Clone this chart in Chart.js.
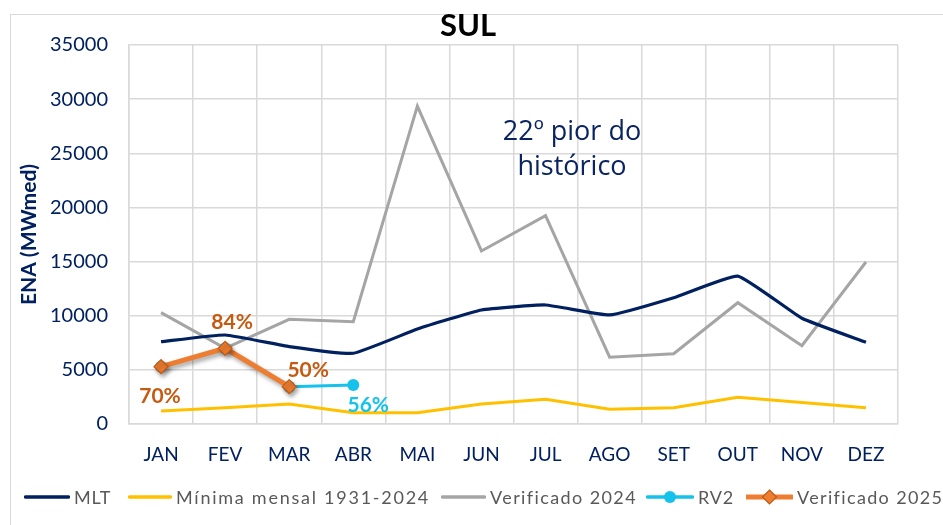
<!DOCTYPE html>
<html><head><meta charset="utf-8">
<script src="https://cdn.jsdelivr.net/npm/chart.js@4/dist/chart.umd.min.js"></script>
<style>
html,body{margin:0;padding:0;background:#fff;}
body{width:943px;height:525px;overflow:hidden;position:relative;font-family:Lato,"Open Sans",sans-serif;}
#frame{position:absolute;left:10px;top:14px;width:1000px;height:600px;border:1.5px solid #d9d9d9;box-sizing:border-box;}
#wrap{position:absolute;left:0;top:0;width:943px;height:525px;}
#title{position:absolute;left:368px;width:200px;top:6px;text-align:center;font-weight:bold;font-size:31px;color:#000;line-height:36px;}
#note{position:absolute;left:452px;width:240px;top:112px;text-align:center;font-family:"Open Sans",sans-serif;font-size:27px;line-height:35px;color:#0a2461;}
.leg{position:absolute;top:484px;height:26px;font-size:18px;color:#595959;line-height:26px;white-space:nowrap;}
.leg svg{position:absolute;top:0;}
</style></head>
<body>
<div id="frame"></div>
<div id="wrap"><canvas id="c" width="943" height="525"></canvas></div>
<div id="title">SUL</div>
<div id="note">22º pior do<br>histórico</div>
<div id="legend"></div>
<script>
const months = ['JAN','FEV','MAR','ABR','MAI','JUN','JUL','AGO','SET','OUT','NOV','DEZ'];
const mlt = [7600, 8220, 7150, 6530, 8770, 10530, 10990, 10070, 11660, 13660, 9770, 7550];
const minima = [1200, 1500, 1850, 1050, 1050, 1850, 2280, 1370, 1510, 2460, 1980, 1510];
const verificado2024 = [10280, 6990, 9670, 9450, 29350, 15980, 19240, 6170, 6490, 11200, 7230, 14960];
const rv2 = [5290, 6990, 3450, 3600, null, null, null, null, null, null, null, null];
const verificado2025 = [5290, 6990, 3450, null, null, null, null, null, null, null, null, null];
const pct2025 = [70, 84, 50];
const pctRV2 = [null, null, null, 56];
const yMin = 0, yMax = 35000, yStep = 5000;

const NAVY = '#002060', YEL = '#ffc000', GRAY = '#a5a5a5', CYAN = '#14c2ec', ORANGE = '#ed7d31', DORANGE = '#c55a11';

const shadowPlugin = {
  id: 'shadow',
  beforeDatasetDraw(chart, args) {
    if (chart.data.datasets[args.index].label === 'Verificado 2025') {
      const ctx = chart.ctx; ctx.save();
      ctx.shadowColor = 'rgba(0,0,0,0.35)'; ctx.shadowBlur = 4; ctx.shadowOffsetX = 2; ctx.shadowOffsetY = 3;
    }
  },
  afterDatasetDraw(chart, args) {
    if (chart.data.datasets[args.index].label === 'Verificado 2025') chart.ctx.restore();
  }
};

const labelPlugin = {
  id: 'pctLabels',
  afterDatasetsDraw(chart) {
    const ctx = chart.ctx;
    ctx.save();
    ctx.textAlign = 'center'; ctx.textBaseline = 'middle';
    ctx.font = 'bold 21px Lato, sans-serif';
    const m25 = chart.getDatasetMeta(4);
    const off25 = [[-1, 30], [7, -26], [19, -16]];
    pct2025.forEach((v, i) => {
      if (v == null) return;
      const el = m25.data[i];
      ctx.fillStyle = DORANGE;
      ctx.fillText(v + '%', el.x + off25[i][0], el.y + off25[i][1]);
    });
    const mrv = chart.getDatasetMeta(3);
    pctRV2.forEach((v, i) => {
      if (v == null) return;
      const el = mrv.data[i];
      ctx.fillStyle = CYAN;
      ctx.fillText(v + '%', el.x + 15, el.y + 20);
    });
    ctx.restore();
  }
};

new Chart(document.getElementById('c'), {
  type: 'line',
  data: {
    labels: months,
    datasets: [
      {label: 'MLT', data: mlt, borderColor: NAVY, backgroundColor: NAVY, borderWidth: 3.2, pointRadius: 0, tension: 0.12, order: 3},
      {label: 'Mínima mensal 1931-2024', data: minima, borderColor: YEL, backgroundColor: YEL, borderWidth: 3, pointRadius: 0, order: 5},
      {label: 'Verificado 2024', data: verificado2024, borderColor: GRAY, backgroundColor: GRAY, borderWidth: 3, pointRadius: 0, order: 4},
      {label: 'RV2', data: rv2, borderColor: CYAN, backgroundColor: CYAN, borderWidth: 3, pointRadius: 6, pointBorderWidth: 0, pointBackgroundColor: CYAN, order: 1},
      {label: 'Verificado 2025', data: verificado2025, borderColor: ORANGE, backgroundColor: ORANGE, borderWidth: 5, pointStyle: 'rectRot', pointRadius: 7, pointBackgroundColor: ORANGE, pointBorderColor: DORANGE, pointBorderWidth: 1.2, order: 0}
    ]
  },
  options: {
    responsive: false, animation: false, events: [],
    layout: {padding: {top: 45, right: 45, bottom: 41, left: 0}},
    plugins: {legend: {display: false}, title: {display: false}, tooltip: {enabled: false}},
    scales: {
      x: {
        type: 'category', offset: true,
        grid: {offset: true, color: '#d9d9d9', lineWidth: 1.5, drawTicks: false},
        border: {color: '#d9d9d9', width: 1.5},
        ticks: {color: NAVY, font: {family: 'Lato', size: 19}, padding: 19, maxRotation: 0},
        afterFit: s => { s.height = 60; }
      },
      y: {
        min: yMin, max: yMax,
        grid: {color: '#d9d9d9', lineWidth: 1.5, drawTicks: false},
        border: {color: '#d9d9d9', width: 1.5},
        ticks: {stepSize: yStep, color: NAVY, font: {family: 'Lato', size: 20}, padding: 21, callback: v => String(v)},
        title: {display: true, text: 'ENA (MWmed)', color: NAVY, font: {family: 'Lato', size: 21, weight: 'bold'}, padding: {top: 17, bottom: 0}},
        afterFit: s => { s.width = 129; }
      }
    }
  },
  plugins: [shadowPlugin, labelPlugin]
});

// legend
const legItems = [
  {text: 'MLT', color: NAVY, x: 24, w: 46, marker: null, ls: 0.8},
  {text: 'Mínima mensal 1931-2024', color: YEL, x: 128, w: 44, marker: null, ls: 1.75},
  {text: 'Verificado 2024', color: GRAY, x: 441, w: 45, marker: null, ls: 1.4},
  {text: 'RV2', color: CYAN, x: 646, w: 48, marker: 'circle', ls: 0.8},
  {text: 'Verificado 2025', color: ORANGE, x: 746, w: 47, marker: 'diamond', ls: 1.35}
];
const legend = document.getElementById('legend');
legItems.forEach(it => {
  const d = document.createElement('div');
  d.className = 'leg';
  d.style.left = it.x + 'px';
  d.style.paddingLeft = (it.w + 4) + 'px';
  d.style.letterSpacing = it.ls + 'px';
  let mk = '';
  const cx = it.w / 2;
  if (it.marker === 'circle') mk = `<circle cx="${cx}" cy="13" r="6" fill="${it.color}"/>`;
  if (it.marker === 'diamond') mk = `<polygon points="${cx},6 ${cx+7},13 ${cx},20 ${cx-7},13" fill="${it.color}" stroke="${DORANGE}" stroke-width="1.2"/>`;
  const lw = it.marker === 'diamond' ? 5 : 3.5;
  d.innerHTML = `<svg width="${it.w}" height="26" style="left:0"><line x1="1.5" y1="13" x2="${it.w - 1.5}" y2="13" stroke="${it.color}" stroke-width="${lw}" stroke-linecap="round"/>${mk}</svg>${it.text}`;
  legend.appendChild(d);
});
</script>
</body></html>
